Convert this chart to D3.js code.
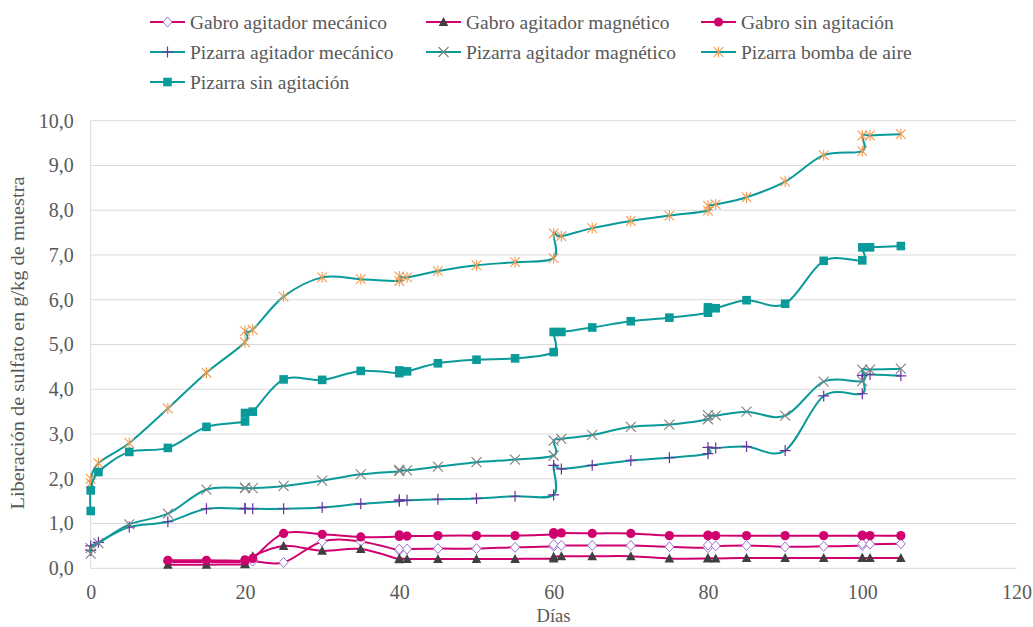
<!DOCTYPE html>
<html>
<head>
<meta charset="utf-8">
<script src="https://cdn.jsdelivr.net/npm/d3@7"></script>
<style>
  html, body { margin: 0; padding: 0; background: #ffffff; }
  svg { display: block; }
  text { font-family: "Liberation Serif", "Times New Roman", serif; fill: #595959; }
</style>
</head>
<body>
<svg id="chart" width="1033" height="627"></svg>
<script>
// ---------- data ----------
const pizarraDays = [0, 0, 1, 5, 10, 15, 20, 20, 21, 25, 30, 35, 40, 40, 41, 45, 50, 55, 60, 60, 61, 65, 70, 75, 80, 80, 81, 85, 90, 95, 100, 100, 101, 105];
const gabroDays = [10, 15, 20, 20, 21, 25, 30, 35, 40, 40, 41, 45, 50, 55, 60, 60, 61, 65, 70, 75, 80, 80, 81, 85, 90, 95, 100, 100, 101, 105];

const gabroMecanico = [0.14, 0.14, 0.14, 0.15, 0.16, 0.13, 0.60, 0.60, 0.40, 0.43, 0.43, 0.44, 0.44, 0.47, 0.49, 0.53, 0.51, 0.51, 0.51, 0.48, 0.46, 0.52, 0.50, 0.51, 0.48, 0.49, 0.51, 0.55, 0.54, 0.55];
const gabroMagnetico = [0.08, 0.08, 0.09, 0.10, 0.27, 0.50, 0.39, 0.43, 0.20, 0.22, 0.21, 0.21, 0.21, 0.21, 0.22, 0.26, 0.27, 0.27, 0.27, 0.22, 0.22, 0.23, 0.22, 0.23, 0.23, 0.23, 0.23, 0.23, 0.23, 0.23];
const gabroSin = [0.18, 0.18, 0.17, 0.19, 0.22, 0.78, 0.76, 0.70, 0.71, 0.75, 0.72, 0.73, 0.73, 0.73, 0.76, 0.80, 0.79, 0.78, 0.78, 0.73, 0.73, 0.74, 0.73, 0.73, 0.73, 0.73, 0.73, 0.74, 0.73, 0.73];

const pizarraMecanico = [0.40, 0.50, 0.58, 0.92, 1.04, 1.33, 1.33, 1.34, 1.33, 1.33, 1.36, 1.44, 1.50, 1.53, 1.52, 1.54, 1.56, 1.61, 1.64, 2.30, 2.22, 2.30, 2.41, 2.47, 2.56, 2.70, 2.69, 2.72, 2.63, 3.85, 3.90, 4.31, 4.33, 4.30];
const pizarraMagnetico = [0.33, 0.45, 0.56, 0.98, 1.22, 1.76, 1.79, 1.80, 1.79, 1.84, 1.96, 2.10, 2.17, 2.20, 2.19, 2.27, 2.37, 2.43, 2.52, 2.85, 2.89, 2.98, 3.16, 3.21, 3.33, 3.42, 3.41, 3.50, 3.41, 4.17, 4.18, 4.44, 4.44, 4.46];
const pizarraBomba = [1.90, 2.00, 2.35, 2.80, 3.57, 4.37, 5.05, 5.30, 5.33, 6.07, 6.50, 6.46, 6.42, 6.52, 6.50, 6.64, 6.77, 6.84, 6.93, 7.48, 7.42, 7.60, 7.76, 7.88, 7.99, 8.10, 8.13, 8.29, 8.64, 9.23, 9.32, 9.67, 9.67, 9.70];
const pizarraSin = [1.28, 1.74, 2.15, 2.60, 2.69, 3.16, 3.28, 3.47, 3.50, 4.22, 4.21, 4.41, 4.36, 4.42, 4.40, 4.58, 4.66, 4.69, 4.83, 5.28, 5.28, 5.38, 5.52, 5.60, 5.71, 5.83, 5.81, 5.99, 5.91, 6.87, 6.88, 7.17, 7.17, 7.20];

const seriesNames = ["Gabro agitador mecánico", "Gabro agitador magnético", "Gabro sin agitación",
                     "Pizarra agitador mecánico", "Pizarra agitador magnético", "Pizarra bomba de aire",
                     "Pizarra sin agitación"];
const xTicks = [0, 20, 40, 60, 80, 100, 120];
const yTicks = [0, 1, 2, 3, 4, 5, 6, 7, 8, 9, 10];
const xTitle = "Días";
const yTitle = "Liberación de sulfato en g/kg de muestra";

// ---------- styles ----------
const MAGENTA = "#d0006f";
const TEAL = "#0a9a9a";
const seriesStyle = [
  { days: gabroDays, values: gabroMecanico, line: MAGENTA, marker: "diamond", mcolor: "#9b6fd6" },
  { days: gabroDays, values: gabroMagnetico, line: MAGENTA, marker: "triangle", mcolor: "#404040" },
  { days: gabroDays, values: gabroSin, line: MAGENTA, marker: "circle", mcolor: MAGENTA },
  { days: pizarraDays, values: pizarraMecanico, line: TEAL, marker: "plus", mcolor: "#7030a0" },
  { days: pizarraDays, values: pizarraMagnetico, line: TEAL, marker: "cross", mcolor: "#808080" },
  { days: pizarraDays, values: pizarraBomba, line: TEAL, marker: "star", mcolor: "#f39a50" },
  { days: pizarraDays, values: pizarraSin, line: TEAL, marker: "square", mcolor: TEAL }
];

const svg = d3.select("#chart");
const x = d3.scaleLinear().domain([0, 120]).range([90.7, 1016.6]);
const y = d3.scaleLinear().domain([0, 10]).range([568.3, 120.7]);

// gridlines
svg.append("g").selectAll("line").data(yTicks).join("line")
  .attr("x1", x(0)).attr("x2", x(120))
  .attr("y1", d => y(d)).attr("y2", d => y(d))
  .attr("stroke", "#d9d9d9").attr("stroke-width", 1);
// left axis line
svg.append("line").attr("x1", x(0)).attr("x2", x(0)).attr("y1", y(10)).attr("y2", y(0))
  .attr("stroke", "#d9d9d9").attr("stroke-width", 1);

// axes via d3
const fmt = d => d3.format(".1f")(d).replace(".", ",");
const yAxis = svg.append("g").attr("transform", `translate(${x(0)},0)`)
  .call(d3.axisLeft(y).tickValues(yTicks).tickFormat(fmt).tickSize(0).tickPadding(17));
yAxis.select(".domain").remove();
yAxis.selectAll("text").attr("font-size", 20).attr("fill", "#595959")
  .style("font-family", '"Liberation Serif", serif');

const xAxis = svg.append("g").attr("transform", `translate(0,${y(0)})`)
  .call(d3.axisBottom(x).tickValues(xTicks).tickFormat(d3.format("d")).tickSize(0).tickPadding(17));
xAxis.select(".domain").remove();
xAxis.selectAll("text").attr("font-size", 20).attr("fill", "#595959")
  .style("font-family", '"Liberation Serif", serif');

// titles
svg.append("text").attr("x", 553.5).attr("y", 622).attr("text-anchor", "middle")
  .attr("font-size", 19.5).attr("textLength", 34).attr("lengthAdjust", "spacingAndGlyphs").text(xTitle);
svg.append("text").attr("transform", "translate(24,343) rotate(-90)").attr("text-anchor", "middle")
  .attr("font-size", 19.5).attr("textLength", 333).attr("lengthAdjust", "spacingAndGlyphs").text(yTitle);

// marker drawing
function drawMarker(g, type, color, cx, cy) {
  switch (type) {
    case "diamond":
      g.append("path").attr("d", `M${cx},${cy-5}L${cx+4.5},${cy}L${cx},${cy+5}L${cx-4.5},${cy}Z`)
        .attr("fill", "#ffffff").attr("stroke", color).attr("stroke-width", 1);
      break;
    case "triangle":
      g.append("path").attr("d", `M${cx},${cy-5}L${cx+4.8},${cy+4}L${cx-4.8},${cy+4}Z`).attr("fill", color);
      break;
    case "circle":
      g.append("circle").attr("cx", cx).attr("cy", cy).attr("r", 4.6).attr("fill", color);
      break;
    case "square":
      g.append("rect").attr("x", cx-4.3).attr("y", cy-4.3).attr("width", 8.6).attr("height", 8.6).attr("fill", color);
      break;
    case "plus":
      g.append("path").attr("d", `M${cx-5.5},${cy}H${cx+5.5}M${cx},${cy-5.5}V${cy+5.5}`)
        .attr("stroke", color).attr("stroke-width", 1.2).attr("fill", "none");
      break;
    case "cross":
      g.append("path").attr("d", `M${cx-5},${cy-5}L${cx+5},${cy+5}M${cx-5},${cy+5}L${cx+5},${cy-5}`)
        .attr("stroke", color).attr("stroke-width", 1.1).attr("fill", "none");
      break;
    case "star":
      g.append("path").attr("d", `M${cx-4.8},${cy-4.8}L${cx+4.8},${cy+4.8}M${cx-4.8},${cy+4.8}L${cx+4.8},${cy-4.8}M${cx},${cy-5.5}V${cy+5.5}`)
        .attr("stroke", color).attr("stroke-width", 1.1).attr("fill", "none");
      break;
  }
}

// series
const lineGen = d3.line().x(d => x(d[0])).y(d => y(d[1])).curve(d3.curveCardinal.tension(0));
seriesStyle.forEach((s, i) => {
  const pts = s.days.map((d, j) => [d, s.values[j]]);
  const g = svg.append("g").attr("class", "series-" + i);
  g.append("path").datum(pts).attr("d", lineGen)
    .attr("fill", "none").attr("stroke", s.line).attr("stroke-width", 2);
  pts.forEach(p => drawMarker(g, s.marker, s.mcolor, x(p[0]), y(p[1])));
});

// legend
const legCols = [150, 426, 701];
const legRows = [22, 52, 82];
seriesNames.forEach((name, i) => {
  const col = i < 3 ? i : (i < 6 ? i - 3 : 0);
  const row = i < 3 ? 0 : (i < 6 ? 1 : 2);
  const lx = legCols[col], ly = legRows[row];
  const g = svg.append("g");
  g.append("line").attr("x1", lx).attr("x2", lx + 35).attr("y1", ly).attr("y2", ly)
    .attr("stroke", seriesStyle[i].line).attr("stroke-width", 2);
  drawMarker(g, seriesStyle[i].marker, seriesStyle[i].mcolor, lx + 17.5, ly);
  g.append("text").attr("x", lx + 40).attr("y", ly + 6.5).attr("font-size", 19.5).text(name);
});
</script>
</body>
</html>
